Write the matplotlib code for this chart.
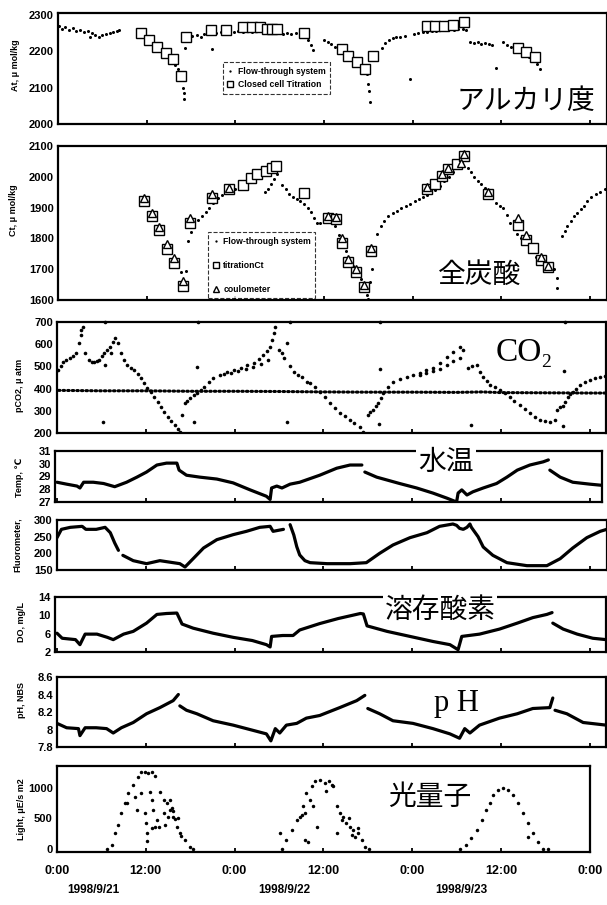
import matplotlib
matplotlib.use("Agg")
import matplotlib.pyplot as plt
from matplotlib.lines import Line2D

nan = float("nan")
W, H = 607, 905

# time axis: hours from 1998/9/21 0:00
hour_ticks = [0, 12, 24, 36, 48, 60, 72]
hour_labels = ["0:00", "12:00", "0:00", "12:00", "0:00", "12:00", "0:00"]
date_labels = ["1998/9/21", "1998/9/22", "1998/9/23"]

# ---- alkalinity (umol/kg) ----
alk_flow = [(0.2, 2268), (0.6, 2262), (1.0, 2266), (1.5, 2258), (2.0, 2263), (2.5, 2255), (3.0, 2259),
            (3.5, 2252), (4.0, 2256), (4.3, 2240), (4.6, 2249), (5.0, 2245), (5.5, 2240), (6.0, 2244),
            (6.5, 2247), (7.0, 2250), (7.5, 2254), (8.0, 2256), (8.3, 2257),
            (10.8, 2253), (11.3, 2246), (11.8, 2238), (12.3, 2229), (12.8, 2221), (13.3, 2211), (13.8, 2201),
            (14.3, 2192), (14.8, 2183), (15.3, 2173), (15.8, 2163), (16.2, 2150), (16.6, 2136), (16.9, 2100),
            (17.0, 2085), (17.0, 2070),
            (17.2, 2208), (17.4, 2232), (17.7, 2240), (18.2, 2242), (18.8, 2245), (19.3, 2238), (19.8, 2247),
            (20.3, 2250), (20.9, 2205), (21.4, 2249), (22.0, 2252), (22.6, 2250), (23.2, 2254), (23.8, 2252),
            (24.4, 2255), (25.0, 2253), (25.6, 2256), (26.2, 2254), (26.8, 2257), (27.4, 2255), (28.0, 2253),
            (28.6, 2250), (29.2, 2252), (29.8, 2249), (30.4, 2247), (31.0, 2250), (31.6, 2248), (32.2, 2250),
            (32.8, 2251), (33.4, 2245), (33.8, 2232), (34.2, 2218), (34.5, 2203),
            (36.0, 2232), (36.5, 2226), (37.0, 2219), (37.5, 2212), (38.0, 2205), (38.5, 2198), (39.0, 2190),
            (39.5, 2182), (40.0, 2174), (40.5, 2166), (41.0, 2157), (41.5, 2146), (41.9, 2137), (42.0, 2110),
            (42.1, 2090), (42.2, 2060),
            (43.9, 2210), (44.3, 2222), (44.8, 2230), (45.3, 2235), (45.8, 2238), (46.3, 2240), (47.0, 2243),
            (47.7, 2123), (48.2, 2247), (48.8, 2250), (49.4, 2252), (50.0, 2254), (50.6, 2256), (51.2, 2255),
            (51.8, 2258), (52.4, 2257), (53.0, 2260), (53.6, 2259), (54.2, 2262), (54.8, 2260), (55.3, 2258),
            (55.8, 2225), (56.3, 2222), (56.8, 2224), (57.3, 2220), (57.8, 2222), (58.3, 2219), (58.8, 2218),
            (59.3, 2155),
            (60.3, 2225), (60.8, 2218), (61.3, 2212), (61.8, 2205), (62.3, 2200), (62.8, 2195), (63.3, 2190),
            (63.8, 2183), (64.3, 2175), (64.8, 2165), (65.3, 2150)]
alk_cell = [(11.2, 2250), (12.3, 2232), (13.4, 2212), (14.6, 2195), (15.6, 2178), (16.6, 2132),
            (17.3, 2240), (20.7, 2259), (22.8, 2259), (25.1, 2267), (26.2, 2267), (27.4, 2267),
            (28.3, 2261), (29.0, 2261), (29.7, 2261), (33.3, 2251),
            (38.5, 2205), (39.3, 2188), (40.5, 2170), (41.5, 2150), (42.7, 2186),
            (49.9, 2268), (51.1, 2268), (52.2, 2268), (53.5, 2273), (54.9, 2281),
            (62.3, 2210), (63.4, 2197), (64.6, 2183)]

# ---- total carbonate (umol/kg) ----
ct_flow = [(16.7, 1690), (17.0, 1650), (17.3, 1695),
           (17.6, 1790), (18.0, 1820), (18.4, 1845), (18.9, 1860), (19.5, 1872), (20.0, 1885), (20.5, 1900),
           (21.0, 1915), (21.6, 1930), (22.2, 1942), (22.8, 1950), (23.4, 1956), (24.0, 1962), (24.6, 1968),
           (25.2, 1975), (25.8, 1985), (26.4, 1993), (27.0, 2002), (27.6, 2010), (28.2, 2017), (28.8, 2023),
           (29.3, 2030),
           (28.0, 1950), (28.4, 1962), (28.8, 1978), (29.2, 1992), (29.6, 2008),
           (30.3, 1975), (30.8, 1960), (31.3, 1945), (31.8, 1935), (32.3, 1928), (32.8, 1922), (33.3, 1912),
           (33.8, 1900), (34.2, 1885), (34.6, 1866), (35.0, 1850), (35.5, 1850), (36.2, 1858), (36.9, 1855),
           (37.5, 1840), (38.0, 1810), (38.5, 1785), (39.0, 1760), (39.5, 1735), (40.0, 1712), (40.5, 1690),
           (41.0, 1668), (41.5, 1640), (41.9, 1615), (42.0, 1603),
           (42.3, 1660), (42.5, 1700), (42.8, 1760), (43.2, 1815), (43.7, 1840), (44.2, 1858), (44.7, 1872),
           (45.3, 1882), (45.9, 1890), (46.5, 1898), (47.1, 1905), (47.7, 1912), (48.3, 1920), (48.9, 1927),
           (49.4, 1933), (49.9, 1940), (50.5, 1948), (51.1, 1958), (51.7, 1970), (52.3, 1985), (52.9, 2000),
           (53.5, 2015), (54.1, 2030), (54.7, 2045),
           (55.5, 2030), (55.9, 2015), (56.3, 2000), (56.8, 1985), (57.3, 1978), (57.8, 1965), (58.3, 1950),
           (58.8, 1930), (59.3, 1915), (59.8, 1905), (60.3, 1898), (60.8, 1875), (61.2, 1850), (61.7, 1830),
           (62.2, 1815), (62.7, 1800), (63.2, 1785), (63.7, 1770), (64.2, 1755), (64.7, 1740), (65.2, 1728),
           (65.7, 1718), (66.2, 1710), (66.7, 1705), (67.2, 1700), (67.5, 1670), (67.6, 1640),
           (68.2, 1807), (68.6, 1825), (68.9, 1840), (69.4, 1858), (69.9, 1872), (70.3, 1883), (70.8, 1895),
           (71.2, 1905), (71.6, 1922), (72.2, 1935), (72.8, 1945), (73.4, 1952), (74.0, 1960)]
ct_titration = [(11.7, 1922), (12.7, 1872), (13.7, 1828), (14.7, 1765), (15.7, 1720), (16.9, 1645),
                (17.9, 1850), (20.9, 1930), (23.1, 1960), (25.1, 1975), (26.1, 1995), (27.0, 2008),
                (28.1, 2020), (29.0, 2030), (29.5, 2035), (33.3, 1948), (36.6, 1865), (37.6, 1862),
                (38.5, 1785), (39.3, 1725), (40.3, 1692), (41.4, 1643), (42.4, 1760),
                (50.0, 1962), (51.1, 1978), (52.0, 2002), (52.8, 2025), (54.0, 2040), (55.0, 2068),
                (58.2, 1945), (62.3, 1845), (63.4, 1795), (64.3, 1768), (65.4, 1730), (66.3, 1708)]
ct_coulometer = [(11.7, 1932), (12.7, 1882), (13.7, 1838), (14.7, 1782), (15.7, 1735), (16.9, 1662),
                 (17.9, 1866), (20.9, 1945), (23.1, 1965), (36.6, 1872), (37.6, 1868), (38.5, 1800),
                 (39.3, 1732), (40.3, 1700), (41.4, 1650), (42.4, 1770), (50.0, 1968), (52.0, 2008),
                 (52.8, 2030), (54.5, 2045), (55.0, 2075), (58.2, 1950), (62.3, 1865), (63.4, 1810),
                 (65.4, 1740), (66.3, 1712)]

# ---- pCO2 (uatm) ----
pco2_sea = [(0.2, 484), (0.5, 500), (0.8, 520), (1.2, 530), (1.7, 538), (2.2, 548), (2.6, 560), (3.0, 605),
            (3.2, 640), (3.3, 664), (3.5, 678),
            (3.8, 560), (4.3, 529), (4.7, 522), (5.0, 520), (5.4, 524), (5.7, 529), (6.1, 545), (6.4, 560),
            (6.8, 575), (7.1, 588), (7.5, 610), (7.8, 628), (8.2, 605), (7.3, 560), (8.6, 560), (9.0, 530),
            (9.5, 505), (10.0, 494), (10.4, 484), (10.9, 465), (11.3, 448), (11.8, 425), (12.2, 403),
            (12.7, 383), (13.1, 363), (13.6, 340), (14.0, 317), (14.5, 295), (15.0, 272), (15.4, 255),
            (15.9, 236), (16.3, 220), (16.6, 205),
            (16.9, 281), (17.3, 335), (17.6, 345), (18.0, 358), (18.5, 370), (18.9, 380), (19.4, 395),
            (19.8, 407), (20.5, 428), (21.1, 448), (22.0, 462), (23.0, 475), (23.9, 485), (24.8, 493),
            (25.7, 505), (26.6, 515), (27.3, 532), (27.9, 551), (28.4, 570), (28.8, 588), (29.1, 620),
            (29.3, 650), (29.5, 678),
            (22.5, 468), (23.5, 470), (24.5, 478), (25.5, 488), (26.5, 497), (27.5, 510), (28.5, 530),
            (30.0, 574), (30.4, 560), (30.7, 538), (31.1, 605), (31.5, 500), (32.0, 475), (32.5, 463),
            (33.1, 453), (33.8, 430), (34.2, 425), (34.8, 405), (35.5, 385), (36.2, 360), (36.9, 335),
            (37.5, 312), (38.2, 290), (38.9, 275), (39.6, 259), (40.2, 243), (40.9, 227), (41.4, 205),
            (42.0, 281), (42.3, 295), (42.7, 304), (43.1, 320), (43.4, 335), (43.8, 358), (44.1, 380),
            (44.7, 405), (45.4, 430), (46.3, 442), (47.3, 452), (48.1, 462), (49.0, 470), (49.9, 482),
            (50.8, 493), (51.7, 515), (52.7, 542), (53.5, 565), (54.4, 588), (54.9, 572),
            (49.0, 460), (49.9, 470), (50.8, 478), (51.7, 490), (52.7, 505), (53.5, 525), (54.4, 540),
            (55.5, 493), (56.1, 500), (56.7, 506), (57.2, 475), (57.6, 452), (58.1, 432), (58.5, 416),
            (59.2, 405), (59.8, 394), (60.5, 378), (61.2, 362), (61.8, 345), (62.5, 326), (63.2, 308),
            (63.9, 290), (64.6, 273), (65.3, 259), (66.0, 252), (66.6, 250), (67.3, 259),
            (67.5, 304), (68.0, 315), (68.4, 322), (68.7, 340), (69.0, 362), (69.3, 375), (69.7, 385),
            (70.2, 400), (70.7, 416), (71.3, 428), (72.0, 439), (72.7, 446), (73.4, 452), (74.0, 458)]
pco2_air = [(0.2, 392), (6.0, 390), (12.0, 390), (18.0, 388), (24.0, 388), (30.0, 387), (36.0, 385),
            (42.0, 384), (48.0, 384), (54.0, 383), (57.5, 385), (60.0, 382), (66.0, 381), (72.0, 380),
            (74.3, 380)]
pco2_spikes = [(6.5, 505), (6.2, 250), (18.9, 497), (18.5, 250), (31.1, 250), (43.6, 488), (43.5, 241),
               (55.9, 236), (68.5, 479), (68.4, 232),
               (6.5, 700), (19.1, 700), (31.5, 700), (43.6, 700), (68.6, 700)]

# ---- water temperature (deg C) ----
temp = [(0.0, 28.55), (1.3, 28.4), (2.7, 28.25), (3.1, 28.1), (3.6, 28.55), (4.9, 28.55), (6.3, 28.45),
        (7.8, 28.2), (9.4, 28.55), (10.8, 28.95), (12.1, 29.35), (13.5, 29.9), (14.8, 30.05), (16.2, 30.05),
        (16.5, 29.5), (17.5, 29.1), (19.3, 28.95), (21.6, 28.8), (23.8, 28.5), (26.1, 27.95), (28.3, 27.45),
        (28.8, 27.2), (29.0, 28.1), (29.7, 28.25), (30.4, 28.1), (31.5, 28.4), (32.8, 28.55), (35.5, 29.1),
        (37.8, 29.65), (39.6, 29.9), (41.2, 29.9), (41.4, nan),
        (41.6, 29.35), (43.2, 28.95), (46.3, 28.45), (48.6, 28.1), (50.8, 27.7), (52.7, 27.3), (54.0, 27.0),
        (54.2, 27.7), (54.7, 27.95), (55.4, 27.55), (56.2, 27.8), (57.6, 28.1), (59.4, 28.45), (60.8, 28.95),
        (62.2, 29.5), (63.9, 29.9), (65.7, 30.15), (66.4, 30.3), (66.5, nan),
        (66.6, 29.5), (68.0, 28.95), (69.7, 28.55), (72.0, 28.4), (73.8, 28.3)]

# ---- fluorometer ----
fluor = [(0.0, 247), (0.6, 272), (1.8, 278), (3.4, 281), (3.9, 272), (5.3, 272), (6.5, 278), (7.2, 262),
         (7.8, 231), (8.3, 209), (8.6, nan),
         (8.9, 194), (10.3, 178), (12.1, 169), (13.9, 178), (15.7, 172), (16.6, 169), (17.3, 159),
         (18.4, 184), (19.8, 216), (21.6, 241), (23.8, 256), (25.6, 266), (27.4, 278), (28.8, 281),
         (29.2, 266), (30.6, 272), (31.0, nan),
         (31.5, 286), (32.0, 255), (32.4, 220), (32.8, 195), (33.5, 178), (34.2, 172), (36.5, 169),
         (39.6, 169), (41.8, 172), (43.6, 200), (45.4, 225), (47.7, 247), (50.0, 262), (51.7, 281),
         (53.5, 288), (54.0, 284), (54.4, 275), (54.9, 272), (55.4, 278), (55.8, 288), (56.0, 278),
         (56.9, 250), (57.6, 219), (58.9, 194), (60.8, 172), (63.5, 163), (66.2, 163), (68.0, 184),
         (69.7, 216), (71.6, 247), (73.4, 266), (74.3, 272)]

# ---- dissolved oxygen (mg/L) ----
do = [(0.0, 6.1), (0.7, 5.0), (2.5, 4.7), (3.1, 3.6), (3.8, 5.9), (5.4, 5.9), (6.8, 5.2), (7.6, 4.7),
      (9.0, 5.9), (10.3, 6.5), (12.1, 8.3), (13.5, 10.2), (14.8, 10.4), (16.2, 10.5), (16.9, 8.1),
      (18.4, 7.2), (21.1, 6.1), (23.8, 5.2), (26.4, 4.5), (28.3, 3.6), (28.8, 3.1), (29.0, 5.4),
      (30.5, 5.6), (31.9, 5.6), (32.8, 6.8), (35.5, 8.2), (38.0, 9.3), (41.0, 10.4), (41.4, 10.3),
      (41.9, 7.7), (44.6, 6.5), (47.7, 5.4), (50.8, 4.3), (53.1, 3.6), (54.2, 2.5), (54.7, 5.4),
      (57.1, 5.9), (59.8, 7.0), (62.2, 8.3), (64.3, 9.5), (66.2, 10.2), (66.9, 10.6), (66.95, nan),
      (67.0, 8.3), (68.4, 7.0), (70.3, 5.9), (72.4, 5.0), (74.2, 4.7)]

# ---- pH (NBS) ----
ph = [(0.0, 8.07), (1.3, 8.02), (2.9, 8.01), (3.1, 7.93), (3.8, 8.02), (5.3, 8.02), (6.7, 8.01), (7.6, 7.96),
      (8.7, 8.02), (10.3, 8.08), (12.1, 8.18), (13.9, 8.25), (15.7, 8.33), (16.4, 8.40), (16.5, nan),
      (16.6, 8.27), (17.5, 8.22), (18.9, 8.18), (21.1, 8.10), (23.8, 8.05), (26.5, 7.99), (28.3, 7.95),
      (28.9, 7.87), (29.5, 8.01), (30.1, 7.96), (31.0, 8.05), (32.4, 8.07), (33.7, 8.13), (35.5, 8.16),
      (38.2, 8.25), (40.5, 8.33), (41.6, 8.39), (41.8, nan),
      (42.0, 8.24), (43.6, 8.18), (45.4, 8.10), (48.1, 8.07), (50.8, 8.01), (53.1, 7.95), (54.4, 7.90),
      (55.1, 8.01), (55.8, 7.96), (57.1, 8.05), (59.8, 8.13), (62.2, 8.18), (64.3, 8.24), (66.6, 8.25),
      (67.0, 8.36), (67.1, nan),
      (67.3, 8.22), (68.9, 8.18), (71.1, 8.08), (74.2, 8.05)]

# ---- light (uE/s/m2) ----
light = [(6.7, 0), (7.4, 66), (7.8, 262), (8.3, 393), (8.7, 590), (9.2, 754), (9.6, 918), (10.3, 1049),
         (11.0, 1164), (11.4, 1246), (11.9, 1246), (12.3, 1230), (12.8, 1246), (13.2, 1180), (13.9, 934),
         (14.4, 803), (14.8, 754), (15.3, 639), (15.7, 524), (16.2, 361), (16.6, 262), (17.3, 148),
         (18.0, 33), (18.4, 0),
         (9.4, 754), (10.5, 852), (10.8, 639), (11.4, 918), (11.9, 590), (12.0, 426), (12.1, 262),
         (12.2, 126), (12.6, 934), (12.8, 803), (13.0, 639), (13.5, 475), (13.8, 361), (14.4, 590),
         (14.6, 393), (15.0, 524), (15.3, 803), (15.5, 672), (15.7, 623), (15.9, 491), (16.4, 508),
         (16.8, 213), (12.8, 344), (13.2, 361),
         (30.1, 262), (30.4, 0), (31.0, 148), (31.7, 311), (32.4, 475), (32.8, 530), (33.1, 557),
         (33.3, 694), (33.5, 590), (33.7, 918), (34.4, 1022), (34.9, 1104), (35.5, 1131), (36.2, 1077),
         (36.7, 1104), (37.1, 1049), (36.4, 940), (37.3, 1022), (34.2, 803), (34.6, 694), (35.1, 366),
         (33.5, 148), (33.9, 120),
         (37.8, 694), (38.2, 585), (38.5, 475), (39.1, 421), (39.6, 366), (40.0, 311), (40.7, 257),
         (41.2, 148), (41.6, 38), (42.1, 0), (37.8, 257), (38.7, 530), (39.4, 503), (39.8, 230),
         (40.3, 202), (40.7, 339),
         (54.4, 0), (55.3, 66), (56.0, 175), (56.7, 311), (57.4, 475), (58.0, 639), (58.5, 749),
         (58.9, 885), (59.6, 967), (60.3, 995), (61.0, 967), (61.6, 885), (62.3, 749), (63.0, 585),
         (63.7, 421), (64.3, 257), (65.0, 120), (65.7, 11), (66.4, 0), (63.7, 202)]


def xs(pts):
    return [p[0] for p in pts]


def ys(pts):
    return [p[1] for p in pts]


plt.rcParams["font.family"] = ["Liberation Sans", "DejaVu Sans"]
plt.rcParams["font.weight"] = "bold"

fig = plt.figure(figsize=(W / 100, H / 100), dpi=100)
HPX = 12 / 88.8  # hours per pixel, 0:00 of 9/21 at x=57


def panel(l, t, r, b, ylim, yticks, ytl=None):
    ax = fig.add_axes([l / W, 1 - b / H, (r - l) / W, (b - t) / H])
    ax.set_xlim((l - 57) * HPX, (r - 57) * HPX)
    ax.set_ylim(*ylim)
    ax.set_xticks(hour_ticks)
    ax.set_yticks(yticks)
    ax.set_yticklabels(ytl if ytl else [str(v) for v in yticks])
    ax.tick_params(axis="x", direction="in", length=3, width=1.3, labelbottom=False)
    ax.tick_params(axis="y", direction="in", length=0, pad=3, labelsize=8)
    for s in ax.spines.values():
        s.set_linewidth(1.6)
    return ax


def ylab(x, y, s):
    fig.text(x / W, 1 - y / H, s, rotation=90, ha="center", va="center", fontsize=6.5, fontweight="bold")


def title(x, y, s, size=20, family=None, box=False):
    kw = dict(ha="center", va="center", fontsize=size, fontweight="normal",
              family=family or ["Noto Sans CJK JP", "DejaVu Sans"])
    if box:
        kw["bbox"] = dict(facecolor="white", edgecolor="none", pad=1.5)
    fig.text(x / W, 1 - y / H, s, **kw)


def dashed_legend(ax, handles, labels, anchor, spacing):
    leg = ax.legend(handles, labels, loc="upper left", bbox_to_anchor=anchor, fontsize=6.2,
                    frameon=True, fancybox=False, borderpad=0.5, handlelength=0.8, handletextpad=0.5,
                    labelspacing=spacing, borderaxespad=0, markerscale=0.75)
    leg.get_frame().set_edgecolor("black")
    leg.get_frame().set_linestyle("--")
    leg.get_frame().set_linewidth(0.8)


dot = dict(ls="none", marker="o", color="black", ms=2.2, mew=0)
sq = dict(ls="none", marker="s", mfc="white", mec="black", ms=6.5, mew=1.0)
tri = dict(ls="none", marker="^", mfc="white", mec="black", ms=6.0, mew=1.0)
line = dict(color="black", lw=2.3, solid_capstyle="round")

# alkalinity
ax = panel(58, 13, 607, 124, (2000, 2305), [2000, 2100, 2200, 2300])
ax.plot(xs(alk_flow), ys(alk_flow), **dot)
ax.plot(xs(alk_cell), ys(alk_cell), **sq)
dashed_legend(ax, [Line2D([], [], **dot), Line2D([], [], **sq)],
              ["Flow-through system", "Closed cell Titration"], (0.30, 0.555), 0.55)
ylab(16, 65, "At, μ mol/kg")
title(526, 101, "アルカリ度")

# total carbonate
ax = panel(58, 146, 607, 300, (1600, 2100), [1600, 1700, 1800, 1900, 2000, 2100])
ax.plot(xs(ct_flow), ys(ct_flow), **dot)
ax.plot(xs(ct_titration), ys(ct_titration), **sq)
ax.plot(xs(ct_coulometer), ys(ct_coulometer), **tri)
dashed_legend(ax, [Line2D([], [], **dot), Line2D([], [], **sq), Line2D([], [], **tri)],
              ["Flow-through system", "titrationCt", "coulometer"], (0.273, 0.44), 1.75)
ylab(14, 210, "Ct, μ mol/kg")
title(480, 275, "全炭酸")

# pCO2
ax = panel(57, 322, 606, 433, (200, 700), [200, 300, 400, 500, 600, 700])
ax.plot(xs(pco2_air), ys(pco2_air), color="black", lw=2.2, ls=(0, (0.5, 1.0)), dash_capstyle="round")
ax.plot(xs(pco2_sea), ys(pco2_sea), ls="none", marker="o", color="black", ms=2.6, mew=0)
ax.plot(xs(pco2_spikes), ys(pco2_spikes), ls="none", marker="o", color="black", ms=2.6, mew=0, clip_on=False)
ylab(20, 385, "pCO2, μ atm")
title(519, 353, "CO", size=24, family=["Liberation Serif"])
title(546, 362, "2", size=14, family=["Liberation Serif"])

# water temperature
ax = panel(55, 451, 602, 502, (27, 31), [27, 28, 29, 30, 31])
ax.plot(xs(temp), ys(temp), **line)
ylab(20, 477, "Temp, ℃")
title(446, 462, "水温", box=True)

# fluorometer
ax = panel(57, 520, 607, 570, (150, 300), [150, 200, 250, 300])
ax.plot(xs(fluor), ys(fluor), **line)
ylab(17, 545, "Fluorometer,")

# dissolved oxygen
ax = panel(55, 597, 606, 652, (2, 14), [2, 6, 10, 14])
ax.plot(xs(do), ys(do), **line)
ylab(22, 622, "DO, mg/L")
title(440, 610, "溶存酸素", box=True)

# pH
ax = panel(57, 677, 606, 747, (7.8, 8.6), [7.8, 8.0, 8.2, 8.4, 8.6], ["7.8", "8", "8.2", "8.4", "8.6"])
ax.plot(xs(ph), ys(ph), **line)
ylab(22, 700, "pH, NBS")
title(456, 703, "p H", size=22, family=["Liberation Serif"])

# light
ax = panel(57, 766, 590, 852, (-45, 1350), [0, 500, 1000])
ax.plot(xs(light), ys(light), ls="none", marker="o", color="black", ms=2.5, mew=0)
ax.tick_params(axis="x", labelbottom=True, labelsize=9, pad=9)
ax.set_xticklabels(hour_labels)
ylab(21, 809, "Light, μE/s m2")
title(430, 797, "光量子")

for px, s in zip([93, 284, 461], date_labels):
    fig.text(px / W, 1 - 890 / H, s, ha="center", va="center", fontsize=8.5, fontweight="bold")

fig.savefig("out.png", dpi=100)
